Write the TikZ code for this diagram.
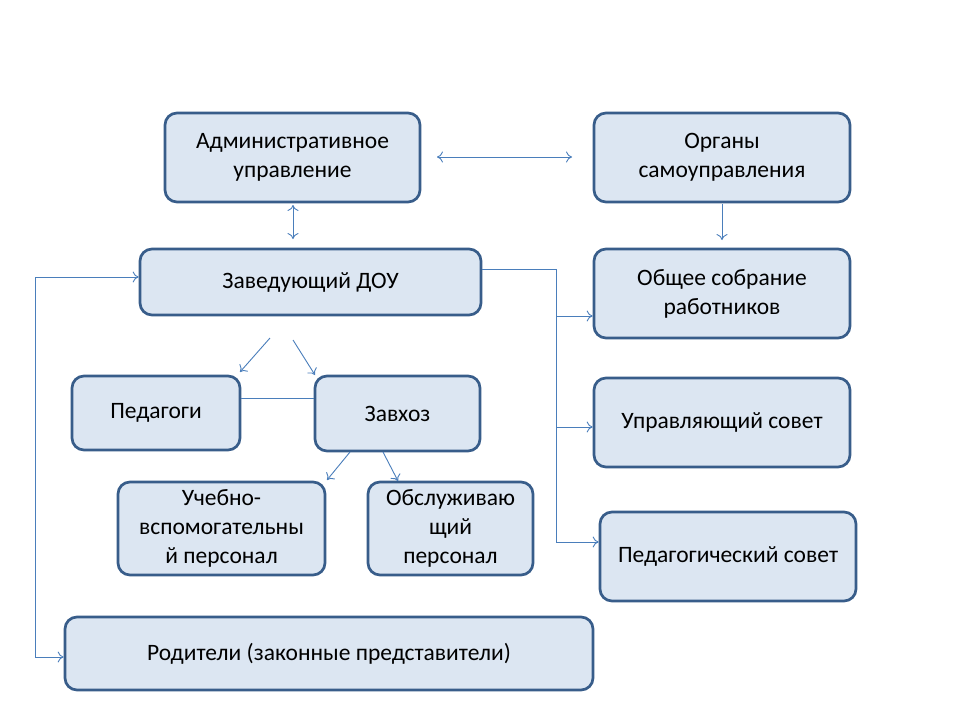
\documentclass[tikz,border=0pt]{standalone}
\usepackage{fontspec}
\setmainfont{Carlito}
\usetikzlibrary{arrows.meta}
\definecolor{boxfill}{HTML}{DCE6F2}
\definecolor{boxline}{HTML}{385D8A}
\definecolor{conn}{HTML}{4A7EBB}
\begin{document}
\begin{tikzpicture}[x=1pt,y=-1pt,
  box/.style={draw=boxline,line width=2.7pt,fill=boxfill,rounded corners=12pt,
    align=center,inner sep=0pt,font=\fontsize{23.5}{29}\selectfont,text=black},
  conn/.style={draw=conn,line width=0.9pt,-{To[length=6pt,width=11pt]}},
  dconn/.style={conn,{To[length=6pt,width=11pt]}-{To[length=6pt,width=11pt]}},
  plain/.style={draw=conn,line width=0.9pt}]
\useasboundingbox (0,0) rectangle (960,720);
\fill[white] (0,0) rectangle (960,720);
\node[box,minimum width=255pt,minimum height=89pt] (adm) at (292.5,157.5) {Административное\\управление};
\node[box,minimum width=256pt,minimum height=89pt] (org) at (722,157.5) {Органы\\самоуправления};
\node[box,minimum width=341pt,minimum height=66pt] (zav) at (310.5,282) {Заведующий ДОУ};
\node[box,minimum width=256pt,minimum height=89pt] (obs) at (722,293.5) {Общее собрание\\работников};
\node[box,minimum width=168pt,minimum height=74pt] (ped) at (156,413) {Педагоги};
\node[box,minimum width=165pt,minimum height=75pt] (zx) at (397.5,413.5) {Завхоз};
\node[box,minimum width=207pt,minimum height=93pt] (ucheb) at (221.5,528.5) {Учебно-\\вспомогательны\\й персонал};
\node[box,minimum width=165pt,minimum height=93pt] (obsl) at (450.5,528.5) {Обслуживаю\\щий\\персонал};
\node[box,minimum width=256pt,minimum height=89pt] (upr) at (722,422.5) {Управляющий совет};
\node[box,minimum width=256pt,minimum height=89pt] (pedsov) at (728,556.5) {Педагогический совет};
\node[box,minimum width=528pt,minimum height=73pt] (rod) at (329,653.5) {Родители (законные представители)};
% connectors
\coordinate (a1) at (437,157);
\coordinate (a2) at (572,157);
\draw[dconn] (a1) -- (a2);
\coordinate (b1) at (293,205);
\coordinate (b2) at (293,239);
\draw[dconn] (b1) -- (b2);
\coordinate (c1) at (722,204);
\coordinate (c2) at (722,240);
\draw[conn] (c1) -- (c2);
\coordinate (r0) at (482,269);
\coordinate (r1) at (556,269);
\coordinate (r2) at (556,542);
\draw[plain] (r0) -- (r1) -- (r2);
\draw[conn] (556,316) -- (obs.west |- 0,316);
\draw[conn] (556,427) -- (upr.west |- 0,427);
\draw[conn] (r2) -- (pedsov.west |- 0,542);
\coordinate (l1) at (35,277);
\coordinate (l2) at (35,657);
\draw[dconn] (zav.west |- 0,277) -- (l1) -- (l2) -- (rod.west |- 0,657);
\coordinate (d1) at (270,338);
\coordinate (d2) at (240,372);
\draw[conn] (d1) -- (d2);
\coordinate (e1) at (293,340);
\coordinate (e2) at (315,375);
\draw[conn] (e1) -- (e2);
\draw[plain] (ped.east |- 0,398) -- (zx.west |- 0,398);
\coordinate (f1) at (350,452);
\coordinate (f2) at (327,480);
\draw[conn] (f1) -- (f2);
\coordinate (g1) at (383,452);
\coordinate (g2) at (398,481);
\draw[conn] (g1) -- (g2);
\end{tikzpicture}
\end{document}
